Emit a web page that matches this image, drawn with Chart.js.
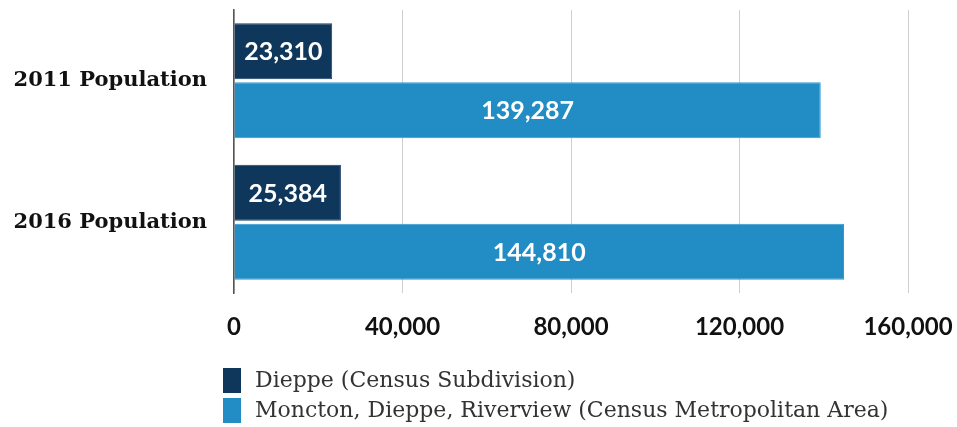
<!DOCTYPE html>
<html>
<head>
<meta charset="utf-8">
<script src="https://cdn.jsdelivr.net/npm/chart.js@4"></script>
<style>
    html, body { margin: 0; padding: 0; background: #fff; }
    #wrap { width: 957px; height: 427px; }
</style>
</head>
<body>
<div id="wrap"><canvas id="population_chart"></canvas></div>
<script>
const categories = ['2011 Population', '2016 Population']
const seriesNames = ['Dieppe (Census Subdivision)', 'Moncton, Dieppe, Riverview (Census Metropolitan Area)']
const dieppeValues = [23310, 25384]
const metroValues = [139287, 144810]
const xTicks = [0, 40000, 80000, 120000, 160000]

const DARK = '#0f365b'
const BLUE = '#228cc4'

// White numbers centred inside every bar
const barLabels = {
    id: 'barLabels',
    afterDatasetsDraw(chart) {
        const ctx = chart.ctx
        ctx.save()
        ctx.fillStyle = '#fff'
        ctx.font = 'bold 25px Lato'
        ctx.textAlign = 'center'
        ctx.textBaseline = 'middle'
        chart.data.datasets.forEach((ds, i) => {
            chart.getDatasetMeta(i).data.forEach((bar, j) => {
                const x = (bar.x + bar.base) / 2
                ctx.fillText(ds.data[j].toLocaleString('en-US'), x, bar.y + 1)
            })
        })
        ctx.restore()
    }
}

// Vertical legend under the axis
const stackedLegend = {
    id: 'stackedLegend',
    afterDraw(chart) {
        const ctx = chart.ctx
        ctx.save()
        ctx.font = '22px "DejaVu Serif"'
        ctx.textBaseline = 'middle'
        chart.data.datasets.forEach((ds, i) => {
            const top = 368 + i * 30
            ctx.fillStyle = ds.backgroundColor
            ctx.fillRect(223, top, 18, 25)
            ctx.fillStyle = '#333'
            ctx.fillText(ds.label, 255, top + 13)
        })
        ctx.restore()
    }
}

new Chart(document.getElementById('population_chart'), {
    type: 'bar',
    data: {
        labels: categories,
        datasets: [
            {
                label: seriesNames[0],
                data: dieppeValues,
                backgroundColor: DARK,
                borderColor: '#1d4268',
                borderWidth: 1,
                categoryPercentage: 0.834,
                barPercentage: 0.95
            },
            {
                label: seriesNames[1],
                data: metroValues,
                backgroundColor: BLUE,
                borderColor: '#3399d0',
                borderWidth: 1,
                categoryPercentage: 0.834,
                barPercentage: 0.95
            }
        ]
    },
    options: {
        indexAxis: 'y',
        responsive: true,
        maintainAspectRatio: false,
        animation: false,
        plugins: {
            legend: { display: false },
            tooltip: { enabled: false }
        },
        scales: {
            x: {
                min: 0,
                max: 160000,
                afterBuildTicks: (scale) => {
                    scale.ticks = xTicks.map(v => ({ value: v }))
                },
                afterFit: (scale) => {
                    scale.height = 50
                    scale.paddingLeft = 0
                    scale.paddingRight = 0
                },
                ticks: {
                    color: '#111',
                    padding: 20,
                    font: { family: 'Lato', weight: 'bold', size: 24 },
                    callback: (value) => value.toLocaleString('en-US')
                },
                grid: {
                    color: '#cfcfcf',
                    lineWidth: 1,
                    drawTicks: false
                },
                border: { display: false }
            },
            y: {
                afterFit: (scale) => {
                    scale.width = 224
                    scale.paddingTop = 0
                    scale.paddingBottom = 0
                },
                ticks: {
                    color: '#111',
                    padding: 19,
                    font: { family: 'DejaVu Serif', weight: 'bold', size: 21 }
                },
                grid: { display: false },
                border: { display: true, color: '#555', width: 1.5 }
            }
        },
        layout: {
            padding: { left: 10, right: 49, top: 10, bottom: 84 }
        }
    },
    plugins: [barLabels, stackedLegend]
})
</script>
</body>
</html>
